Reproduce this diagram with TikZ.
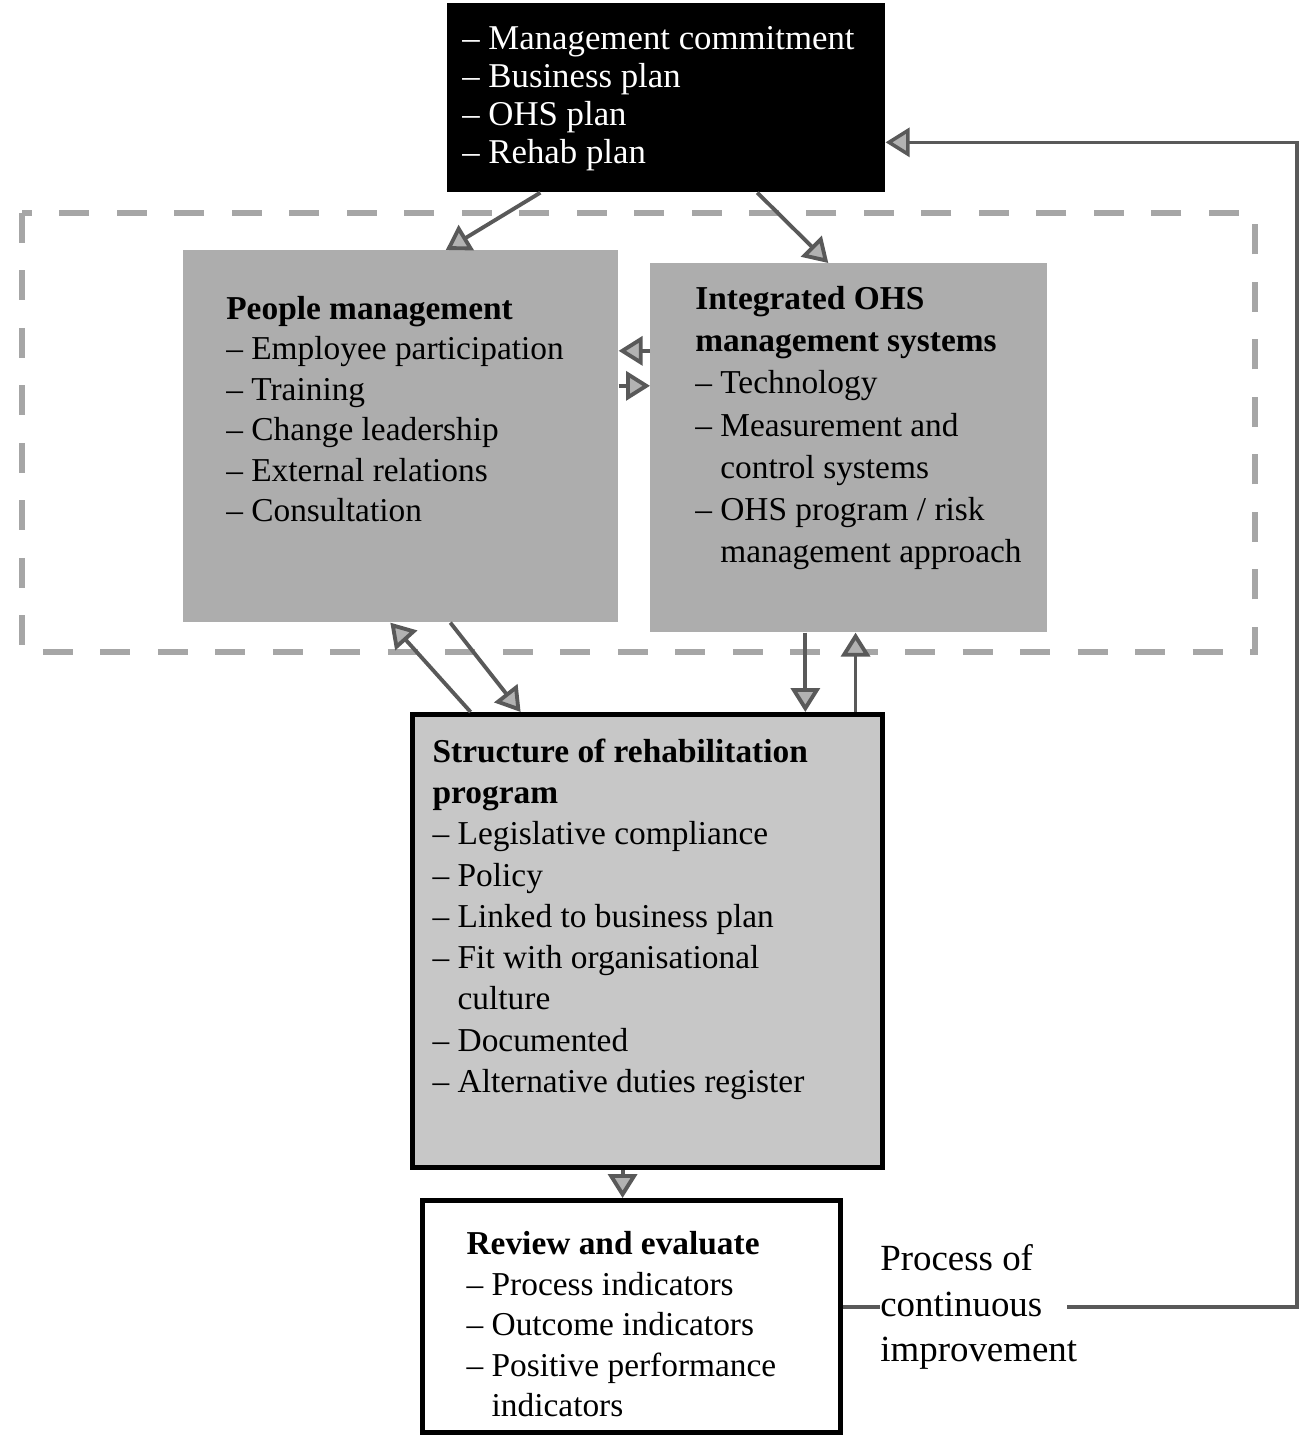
\documentclass[tikz,border=0pt]{standalone}
\usepackage{fontspec}
\setmainfont{Liberation Serif}
\usepackage{tikz}
\usetikzlibrary{arrows.meta,positioning}
% box body: width, height, left margin, top margin, text
\newcommand{\panelbody}[5]{\parbox[c][#2][t]{#1}{\leftskip=#3\vspace*{#4}#5}}
\newcommand{\gap}{\phantom{-- }}

\begin{document}
\begin{tikzpicture}[
    x=0.02cm, y=-0.02cm,
    >={Triangle[length=0.48cm,width=0.58cm,fill=black!30]},
    font=\fontsize{19pt}{23pt}\selectfont,
    panel/.style={
		rectangle,
		anchor=north west,
		inner sep=0pt,
		fill=black!32
	},
	keybox/.style={
		panel,
		fill=black,
		text=white
	},
	framed/.style={
		panel,
		draw=black,
		line width=3pt
	},
	flow/.style={
		draw=black!65,
		line width=2.2pt
	},
	feedback/.style={
		draw=black!65,
		line width=2pt
	},
	zone/.style={
		draw=black!35,
		line width=3pt,
		dash pattern=on 0.6cm off 0.55cm
	}
  ]
  \useasboundingbox (0,0) rectangle (1304,1437);

  % dashed frame round the two middle blocks
  \draw [zone] (22,213) rectangle (1255,652);

  % blocks
  \node [keybox, font=\fontsize{19.8pt}{21.6pt}\selectfont] (mgmt) at (447,3)
  {\panelbody{8.76cm}{3.78cm}{0.3cm}{0.46cm}{%
  -- Management commitment\\
  -- Business plan\\
  -- OHS plan\\
  -- Rehab plan}};

  \node [panel] (people) at (183,250)
  {\panelbody{8.7cm}{7.44cm}{0.86cm}{0.92cm}{%
  \textbf{People management}\\
  -- Employee participation\\
  -- Training\\
  -- Change leadership\\
  -- External relations\\
  -- Consultation}};

  \node [panel, font=\fontsize{19pt}{24pt}\selectfont] (ohs) at (650,263)
  {\panelbody{7.94cm}{7.38cm}{0.9cm}{0.46cm}{%
  \textbf{Integrated OHS}\\
  \textbf{management systems}\\
  -- Technology\\
  -- Measurement and\\
  \gap control systems\\
  -- OHS program / risk\\
  \gap management approach}};

  \node [framed, fill=black!22, font=\fontsize{19pt}{23.5pt}\selectfont] (structure) at (410,712)
  {\panelbody{9.4cm}{9.06cm}{0.4cm}{0.48cm}{%
  \textbf{Structure of rehabilitation}\\
  \textbf{program}\\
  -- Legislative compliance\\
  -- Policy\\
  -- Linked to business plan\\
  -- Fit with organisational\\
  \gap culture\\
  -- Documented\\
  -- Alternative duties register}};

  \node [framed, fill=white] (review) at (420,1198)
  {\panelbody{8.36cm}{4.64cm}{0.88cm}{0.62cm}{%
  \textbf{Review and evaluate}\\
  -- Process indicators\\
  -- Outcome indicators\\
  -- Positive performance\\
  \gap indicators}};

  \node [anchor=west, align=left, inner sep=0pt, font=\fontsize{21pt}{26pt}\selectfont] (process) at (880,1307)
  {Process of\\ continuous\\ improvement};

  \coordinate (loopx) at (1297,0);

  % arrows between blocks
  \draw [flow,->] ([xshift=-2.52cm]mgmt.south) -- ([xshift=0.9cm]people.north);
  \draw [flow,->] ([xshift=1.82cm]mgmt.south) -- ([xshift=-0.41cm]ohs.north);
  \draw [flow,->] ([yshift=1.94cm]ohs.west) -- ([yshift=1.94cm]ohs.west -| people.east);
  \draw [flow,->] ([yshift=1.24cm]ohs.west -| people.east) -- ([yshift=1.24cm]ohs.west);
  \draw [flow,->] ([xshift=-3.54cm]structure.north) -- ([xshift=-0.21cm]people.south);
  \draw [flow,->] ([xshift=0.99cm]people.south) -- ([xshift=-2.54cm]structure.north);
  \draw [flow,->] ([xshift=-0.87cm]ohs.south) -- ([xshift=-0.87cm]ohs.south |- structure.north);
  \draw [flow,->] ([xshift=4.16cm]structure.north) -- ([xshift=4.16cm]structure.north |- ohs.south);
  \draw [flow,->] ([xshift=-0.5cm]structure.south) -- ([xshift=-0.5cm]structure.south |- review.north);

  % continuous improvement loop
  \draw [feedback] (review.east |- process.west) -- (process.west);
  \draw [feedback,->] ([xshift=-0.2cm]process.east) -- (process.east -| loopx) |- ([yshift=-0.89cm]mgmt.east);

\end{tikzpicture}
\end{document}
